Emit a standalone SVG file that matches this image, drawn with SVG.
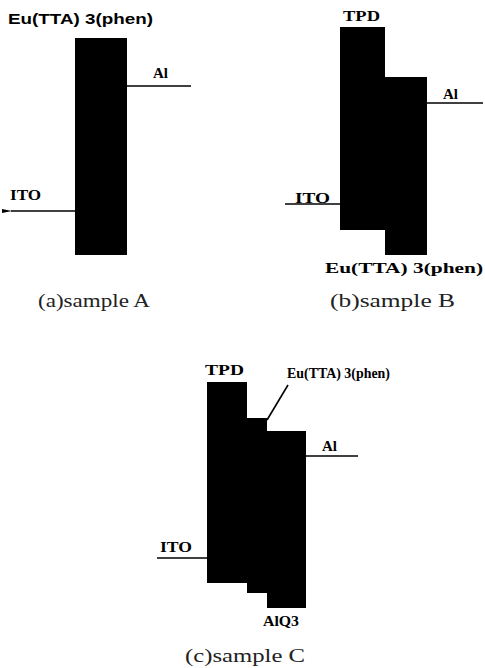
<svg xmlns="http://www.w3.org/2000/svg" width="485" height="668" viewBox="0 0 485 668">
<defs>
<style>
.bar{fill:#000}
.ln{stroke:#000;stroke-width:1.6;fill:none}
.lb{font-family:"Liberation Serif",serif;font-weight:bold;font-size:15px;fill:#000}
.ls{font-family:"Liberation Sans",sans-serif;font-weight:bold;font-size:15px;fill:#000}
.cap{font-family:"Liberation Serif",serif;font-size:18px;fill:#222}
</style>
<marker id="ah" viewBox="0 0 10 6" refX="1" refY="3" markerWidth="10" markerHeight="6" orient="auto-start-reverse" markerUnits="userSpaceOnUse">
<path d="M10,1 L0,3 L10,5 Z" fill="#000"/>
</marker>
</defs>
<rect width="485" height="668" fill="#fff"/>

<g id="connectors">
<line class="ln" x1="127" y1="86" x2="191" y2="86"/>
<line class="ln" x1="77" y1="211" x2="11" y2="211" marker-end="url(#ah)"/>
<line class="ln" x1="427" y1="103" x2="483" y2="103"/>
<line class="ln" x1="285" y1="204" x2="341" y2="204"/>
<line class="ln" x1="306" y1="456" x2="358" y2="456"/>
<line class="ln" x1="157" y1="558" x2="208" y2="558"/>
<line class="ln" x1="288" y1="385" x2="267" y2="420"/>
</g>

<g id="sampleA">
<rect class="bar" x="75" y="38" width="52" height="217"/>
<text class="ls" x="8" y="24" textLength="145" lengthAdjust="spacingAndGlyphs">Eu(TTA) 3(phen)</text>
<text class="lb" x="153" y="78">Al</text>
<text class="lb" x="10" y="200" textLength="31" lengthAdjust="spacingAndGlyphs">ITO</text>
<text class="cap" x="38" y="307" textLength="112" lengthAdjust="spacingAndGlyphs">(a)sample  A</text>
</g>

<g id="sampleB">
<rect class="bar" x="340" y="27" width="45" height="203"/>
<rect class="bar" x="385" y="77" width="42" height="178"/>
<text class="lb" x="343" y="21" textLength="37" lengthAdjust="spacingAndGlyphs">TPD</text>
<text class="lb" x="443" y="99">Al</text>
<text class="lb" x="295" y="203" textLength="35" lengthAdjust="spacingAndGlyphs">ITO</text>
<text class="lb" x="325" y="273" textLength="158" lengthAdjust="spacingAndGlyphs">Eu(TTA)  3(phen)</text>
<text class="cap" x="330" y="307" textLength="125" lengthAdjust="spacingAndGlyphs">(b)sample  B</text>
</g>

<g id="sampleC">
<rect class="bar" x="207" y="382" width="40" height="201"/>
<rect class="bar" x="247" y="418" width="20" height="175"/>
<rect class="bar" x="267" y="431" width="39" height="177"/>
<text class="lb" x="205" y="375" textLength="39" lengthAdjust="spacingAndGlyphs">TPD</text>
<text class="lb" x="287" y="378" font-size="14" textLength="103" lengthAdjust="spacingAndGlyphs">Eu(TTA) 3(phen)</text>
<text class="lb" x="322" y="451">Al</text>
<text class="lb" x="160" y="552" textLength="32" lengthAdjust="spacingAndGlyphs">ITO</text>
<text class="lb" x="263" y="626" textLength="36" lengthAdjust="spacingAndGlyphs">AlQ3</text>
<text class="cap" x="185" y="662" textLength="120" lengthAdjust="spacingAndGlyphs">(c)sample  C</text>
</g>
</svg>
